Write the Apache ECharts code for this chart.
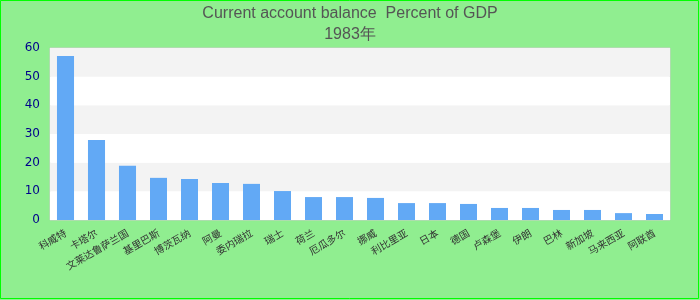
<!DOCTYPE html>
<html>
<head>
<meta charset="utf-8">
<script src="https://cdn.jsdelivr.net/npm/echarts@6/dist/echarts.min.js"></script>
<style>
html,body{margin:0;padding:0;background:#90EE90;}
#c{width:700px;height:300px;}
</style>
</head>
<body>
<div id="c"></div>
<script>
var titleText = 'Current account balance  Percent of GDP';
var subText = '1983年';
var categories = ['科威特','卡塔尔','文莱达鲁萨兰国','基里巴斯','博茨瓦纳','阿曼','委内瑞拉','瑞士','荷兰','厄瓜多尔','挪威','利比里亚','日本','德国','卢森堡','伊朗','巴林','新加坡','马来西亚','阿联酋'];
var values = [57.2, 27.9, 18.9, 14.7, 14.3, 12.9, 12.6, 10.1, 8.0, 8.0, 7.7, 5.9, 5.9, 5.6, 4.2, 4.2, 3.5, 3.5, 2.4, 2.1];
var yTicks = {min: 0, max: 60, interval: 10};

var chart = echarts.init(document.getElementById('c'), null, {renderer: 'canvas'});
chart.setOption({
  backgroundColor: '#90EE90',
  animation: false,
  title: {
    text: titleText + '\n' + subText,
    left: 'center',
    top: -2,
    textStyle: {
      color: '#555555',
      fontSize: 16,
      fontWeight: 'normal',
      fontFamily: 'Liberation Sans, Arial, sans-serif',
      lineHeight: 21
    }
  },
  graphic: [{
    type: 'rect',
    shape: {x: 0.5, y: 0.5, width: 698, height: 298},
    style: {fill: 'none', stroke: '#00ff00', lineWidth: 1},
    silent: true,
    z: 100
  }],
  grid: {
    left: 50, right: 30, top: 48, bottom: 80,
    show: true,
    backgroundColor: '#ffffff',
    borderColor: '#cccccc',
    borderWidth: 1
  },
  xAxis: {
    type: 'category',
    data: categories,
    axisLine: {show: false},
    axisTick: {show: false},
    axisLabel: {
      interval: 0,
      rotate: 30,
      color: '#333333',
      fontSize: 10,
      margin: 12,
      fontFamily: 'Noto Sans CJK SC, sans-serif'
    }
  },
  yAxis: {
    type: 'value',
    min: yTicks.min,
    max: yTicks.max,
    interval: yTicks.interval,
    axisLine: {show: false},
    axisTick: {show: false},
    splitLine: {show: false},
    splitArea: {show: true, areaStyle: {color: ['#ffffff', '#f3f3f3']}},
    axisLabel: {
      color: '#00008B',
      fontSize: 12,
      margin: 10,
      fontFamily: 'DejaVu Sans, sans-serif'
    }
  },
  series: [{
    type: 'bar',
    data: values,
    barWidth: '55%',
    itemStyle: {color: '#62A9F5'}
  }]
});
</script>
</body>
</html>
